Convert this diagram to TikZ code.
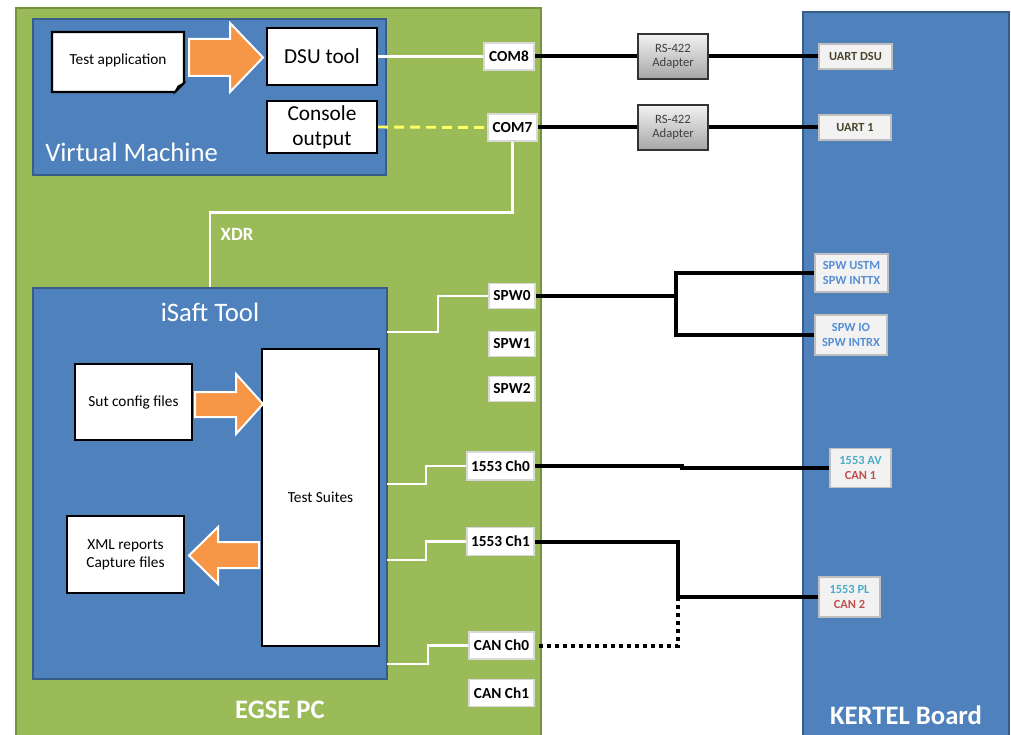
\documentclass[tikz,border=0pt]{standalone}
\usepackage{fontspec}
\setmainfont{Carlito}

\definecolor{pcgreen}{HTML}{9BBB59}
\definecolor{pcgreenline}{HTML}{76923C}
\definecolor{boxblue}{HTML}{4F81BD}
\definecolor{boxblueline}{HTML}{385D8A}
\definecolor{arroworange}{HTML}{F79646}
\definecolor{portline}{HTML}{D9D9D9}
\definecolor{pinfill}{HTML}{F2F2F2}
\definecolor{pinline}{HTML}{BFBFBF}
\definecolor{uarttext}{HTML}{4A452A}
\definecolor{spwtext}{HTML}{558ED5}
\definecolor{miltext}{HTML}{4BACC6}
\definecolor{cantext}{HTML}{C0504D}
\definecolor{consoleyellow}{HTML}{FFFF66}

\begin{document}
\begin{tikzpicture}[x=0.75pt,y=-0.75pt]

    \tikzset{
      container/.style={
        draw=boxblueline,
        fill=boxblue,
        line width=1.2pt,
        inner sep=0pt,
      },
      biglabel/.style={
        text=white,
        inner sep=0pt,
        font=\fontsize{20}{24}\selectfont,
      },
      filebox/.style={
        draw=black,
        line width=1.6pt,
        fill=white,
        align=center,
        inner sep=0pt,
        font=\fontsize{11.5}{13.5}\selectfont,
      },
      port/.style={
        draw=portline,
        line width=1.4pt,
        fill=white,
        inner sep=0pt,
        font=\bfseries\fontsize{11.5}{13}\selectfont,
      },
      pin/.style={
        draw=pinline,
        line width=1.2pt,
        fill=pinfill,
        align=center,
        inner sep=0pt,
        font=\bfseries\fontsize{9.3}{11.5}\selectfont,
      },
      adapter/.style={
        draw=black!80,
        line width=1.2pt,
        top color=black!5,
        bottom color=black!35,
        text=black!75,
        align=center,
        inner sep=0pt,
        minimum width=52.5pt,
        minimum height=33.75pt,
        font=\fontsize{9.5}{11}\selectfont,
      },
      bigarrow/.style={
        fill=arroworange,
        draw=white,
        line width=1.5pt,
        line join=miter,
      },
      wire/.style={black, line width=3pt, line join=miter},
      link/.style={white, line width=2.2pt, line join=miter},
    }
    \useasboundingbox (0,0) rectangle (1011,735);
    \clip (0,0) rectangle (1011,735);
    \fill[white] (0,0) rectangle (1011,735);

	\node[container, fill=pcgreen, draw=pcgreenline, minimum width=393.75pt, minimum height=552.75pt] (egse) at (278.5,376.5) {};
	\node[biglabel, font=\bfseries\fontsize{20}{24}\selectfont] (egselbl) at (280,710) {EGSE PC};
	\node[container, minimum width=154.5pt, minimum height=549.75pt] (kertel) at (906,378.5) {};
	\node[biglabel, font=\bfseries\fontsize{20}{24}\selectfont] (kertellbl) at (906,715) {KERTEL Board};

	\node[container, minimum width=264.75pt, minimum height=117pt] (vm) at (209.5,97) {};
	\node[biglabel, anchor=west] (vmlbl) at (45,152) {Virtual Machine};

	\draw[fill=white, line width=1.6pt, line join=miter] (52,32) -- (184,32) -- (184,83) -- (175,92) -- (52,92) -- cycle;
	\draw[fill=black, line width=0.8pt] (175,92) -- (178,86) -- (184,83) -- cycle;
	\node[inner sep=0pt, font=\fontsize{11.5}{13.5}\selectfont] (app) at (118,60) {Test application};
	\draw[bigarrow] (189,39) -- (230,39) -- (230,23) -- (263,57.5) -- (230,92) -- (230,76) -- (189,76) -- cycle;
	\node[filebox, minimum width=82.5pt, minimum height=42.75pt, font=\fontsize{16}{19}\selectfont] (dsu) at (322,56.5) {DSU tool};
	\node[filebox, minimum width=82.5pt, minimum height=39pt, font=\fontsize{16}{19}\selectfont] (console) at (322,127) {Console\\output};

	\node[container, minimum width=265.5pt, minimum height=293.25pt] (isaft) at (210,483.5) {};
	\node[biglabel] (isaftlbl) at (210,312) {iSaft Tool};
	\node[filebox, minimum width=87.75pt, minimum height=57pt] (sut) at (133.5,402) {Sut config files};
	\node[filebox, minimum width=87.75pt, minimum height=222.75pt] (suites) at (320.5,497.5) {Test Suites};
	\node[filebox, minimum width=87.75pt, minimum height=57.75pt] (xml) at (125.5,554.5) {XML reports\\Capture files};
	\draw[bigarrow] (195,392) -- (236,392) -- (236,374) -- (263,404) -- (236,434) -- (236,417) -- (195,417) -- cycle;
	\draw[bigarrow] (259,542) -- (218,542) -- (218,527) -- (189,555.5) -- (218,584) -- (218,568) -- (259,568) -- cycle;

	\node[port, minimum width=37.5pt, minimum height=20.25pt] (com8) at (509,56.5) {COM8};
	\node[port, minimum width=36.75pt, minimum height=20.25pt] (com7) at (512.5,127.5) {COM7};
	\node[port, minimum width=34.5pt, minimum height=18.75pt] (spw0) at (512,296) {SPW0};
	\node[port, minimum width=34.5pt, minimum height=18.75pt] (spw1) at (512,344) {SPW1};
	\node[port, minimum width=34.5pt, minimum height=18.75pt] (spw2) at (512,389) {SPW2};
	\node[port, minimum width=50.25pt, minimum height=21pt] (ch0) at (500.5,466) {1553 Ch0};
	\node[port, minimum width=50.25pt, minimum height=21pt] (ch1) at (500.5,541.5) {1553 Ch1};
	\node[port, minimum width=48.75pt, minimum height=20.25pt] (can0) at (501.5,645.5) {CAN Ch0};
	\node[port, minimum width=48.75pt, minimum height=20.25pt] (can1) at (501.5,693) {CAN Ch1};

	\node[adapter] (a8) at (673,56.5) {RS-422\\Adapter};
	\node[adapter] (a7) at (673,127.5) {RS-422\\Adapter};

	\node[pin, text=uarttext, minimum width=54.75pt, minimum height=18.75pt] (uartdsu) at (855.5,56.5) {UART DSU};
	\node[pin, text=uarttext, minimum width=54pt, minimum height=18.75pt] (uart1) at (855,127.5) {UART 1};
	\node[pin, text=spwtext, minimum width=54.75pt, minimum height=28.5pt] (ustm) at (851.5,273) {SPW USTM\\SPW INTTX};
	\node[pin, text=spwtext, minimum width=54pt, minimum height=30pt] (io) at (851,335) {SPW IO\\SPW INTRX};
	\node[pin, minimum width=45.75pt, minimum height=29.25pt] (av) at (860.5,468) {\textcolor{miltext}{1553 AV}\\\textcolor{cantext}{CAN 1}};
	\node[pin, minimum width=45.75pt, minimum height=30pt] (pl) at (849.5,597) {\textcolor{miltext}{1553 PL}\\\textcolor{cantext}{CAN 2}};

	\draw[link] (dsu.east) -- (com8.west);
	\draw[link, consoleyellow, dash pattern=on 7.5pt off 4.5pt] (console.east) -- (com7.west);
	\draw[link] (com7.south) -- ++(0,71) -| (isaft.north);
	\node[text=white, inner sep=0pt, font=\bfseries\fontsize{14}{16}\selectfont] (xdr) at (237,234) {XDR};

	\coordinate (out0) at (387,332);
	\coordinate (out1) at (387,484);
	\coordinate (out2) at (387,560);
	\coordinate (out3) at (387,664);
	\draw[link] (out0) -- ++(51,0) |- (spw0.west);
	\draw[link] (out1) -- ++(39,0) |- (ch0.west);
	\draw[link] (out2) -- ++(39,0) |- (ch1.west);
	\draw[link] (out3) -- ++(41,0) |- (can0.west);

	\draw[wire] (com8.east) -- (a8.west);
	\draw[wire] (a8.east) -- (uartdsu.west);
	\draw[wire] (com7.east) -- (a7.west);
	\draw[wire] (a7.east) -- (uart1.west);

	\coordinate (jspw) at (676,296);
	\draw[wire] (spw0.east) -- (jspw);
	\draw[wire] (ustm.west) -- (ustm.west -| jspw) -- (io.west -| jspw) -- (io.west);

	\coordinate (jav) at (682,466);
	\draw[wire] (ch0.east) -- (jav) |- (av.west);
	\coordinate (jpl) at (678,597);
	\draw[wire] (ch1.east) -| (jpl) -- (pl.west);
	\draw[wire, dash pattern=on 3pt off 3pt] (jpl) |- (can0.east);

\end{tikzpicture}
\end{document}
